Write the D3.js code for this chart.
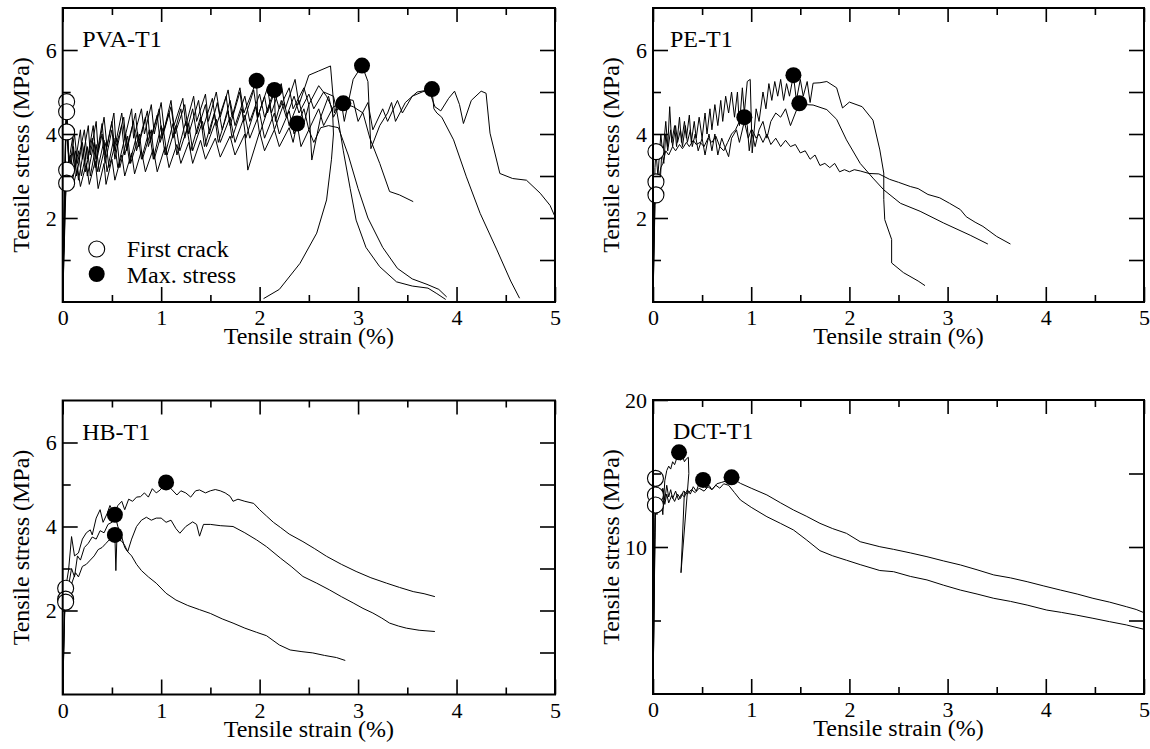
<!DOCTYPE html>
<html><head><meta charset="utf-8">
<script src="https://cdn.jsdelivr.net/npm/d3@7"></script>
<style>
body{margin:0;background:#fff}
svg{display:block}
</style>
</head><body>
<svg id="chart" width="1150" height="749"></svg>
<script>
// ---------- DATA (strain %, stress MPa) : flat [x,y, x,y, ...] ----------
const xTicks = [0, 1, 2, 3, 4, 5];
const xMinorTicks = [0.5, 1.5, 2.5, 3.5, 4.5];
const xTitle = "Tensile strain (%)";
const yTitle = "Tensile stress (MPa)";
const panelNames = ["PVA-T1", "PE-T1", "HB-T1", "DCT-T1"];
const legendLabels = ["First crack", "Max. stress"];

const pvaA = [0,0, 0.03,4.2, 0.04,4.77, 0.06,3.3, 0.1,3.9, 0.12,3.2, 0.18,4.1, 0.2,3.4, 0.26,4.2, 0.28,3.5, 0.34,4.3, 0.36,3.6, 0.42,4.4, 0.45,3.7, 0.52,4.5, 0.54,3.8, 0.6,4.5, 0.63,3.9, 0.7,4.6, 0.72,3.9, 0.8,4.6, 0.83,4.0, 0.9,4.7, 0.93,4.0, 1.0,4.75, 1.03,4.1, 1.1,4.8, 1.13,4.2, 1.22,4.85, 1.25,4.2, 1.33,4.9, 1.36,4.3, 1.45,4.95, 1.48,4.3, 1.56,5.0, 1.6,4.4, 1.68,5.05, 1.72,4.4, 1.8,5.1, 1.84,4.5, 1.97,5.27, 1.98,4.4, 2.05,4.9, 2.08,4.5, 2.15,5.0, 2.2,4.6, 2.3,5.1, 2.34,4.6, 2.45,5.1, 2.5,4.7, 2.6,5.15, 2.68,4.9, 2.74,4.6, 2.75,4.0, 2.73,3.4, 2.68,2.43, 2.58,1.64, 2.41,0.92, 2.2,0.3, 2.04,0.08];
const pvaB = [0,0, 0.03,4.0, 0.04,4.53, 0.07,3.0, 0.11,3.7, 0.14,3.0, 0.2,3.8, 0.23,3.1, 0.3,3.9, 0.33,3.2, 0.4,4.0, 0.43,3.3, 0.5,4.1, 0.53,3.4, 0.6,4.2, 0.63,3.5, 0.72,4.3, 0.75,3.6, 0.84,4.4, 0.87,3.7, 0.96,4.45, 0.99,3.8, 1.08,4.5, 1.12,3.9, 1.2,4.6, 1.24,3.9, 1.32,4.6, 1.36,4.0, 1.45,4.7, 1.49,4.0, 1.57,4.75, 1.62,4.1, 1.7,4.8, 1.75,4.2, 1.85,4.9, 1.9,4.3, 2.0,4.95, 2.05,4.4, 2.15,5.05, 2.16,4.3, 2.22,4.8, 2.27,4.4, 2.35,4.9, 2.4,4.5, 2.5,4.95, 2.55,4.6, 2.65,5.0, 2.75,4.9, 2.78,4.6, 2.85,3.6, 2.92,2.7, 2.98,1.95, 3.08,1.3, 3.22,0.84, 3.39,0.48, 3.55,0.38, 3.71,0.33, 3.8,0.2, 3.89,0.06];
const pvaC = [0,0, 0.03,2.5, 0.04,2.83, 0.08,3.1, 0.1,2.7, 0.15,3.2, 0.18,2.75, 0.24,3.3, 0.27,2.8, 0.33,3.35, 0.36,2.7, 0.42,3.3, 0.44,2.8, 0.5,3.4, 0.53,2.9, 0.6,3.5, 0.63,3.0, 0.7,3.55, 0.73,3.05, 0.8,3.6, 0.84,3.1, 0.92,3.65, 0.96,3.1, 1.04,3.7, 1.08,3.2, 1.16,3.75, 1.2,3.3, 1.28,3.8, 1.32,3.3, 1.4,3.85, 1.45,3.4, 1.55,3.9, 1.6,3.45, 1.7,3.95, 1.75,3.5, 1.85,4.0, 1.88,3.14, 2.0,4.05, 2.05,3.6, 2.15,4.1, 2.2,3.7, 2.3,4.15, 2.34,3.8, 2.38,4.25, 2.42,3.7, 2.5,4.1, 2.55,3.8, 2.62,4.15, 2.7,4.2, 2.8,4.15, 2.9,3.5, 3.0,2.7, 3.1,2.0, 3.25,1.3, 3.4,0.8, 3.55,0.55, 3.7,0.42, 3.82,0.3, 3.9,0.12];
const pvaD = [0,0, 0.03,2.8, 0.04,3.14, 0.08,3.5, 0.1,2.9, 0.16,3.6, 0.19,3.0, 0.25,3.7, 0.28,3.0, 0.34,3.75, 0.37,3.1, 0.44,3.8, 0.47,3.2, 0.55,3.9, 0.58,3.2, 0.66,3.95, 0.69,3.3, 0.78,4.0, 0.81,3.4, 0.9,4.1, 0.93,3.4, 1.02,4.15, 1.06,3.5, 1.15,4.2, 1.19,3.6, 1.28,4.25, 1.32,3.6, 1.42,4.3, 1.46,3.7, 1.56,4.35, 1.6,3.8, 1.7,4.4, 1.75,3.8, 1.85,4.45, 1.9,3.9, 2.0,4.5, 2.05,3.9, 2.15,4.5, 2.2,4.0, 2.3,4.55, 2.35,4.0, 2.45,4.6, 2.5,4.1, 2.6,4.6, 2.65,4.2, 2.75,4.65, 2.85,4.73, 2.95,4.65, 3.05,4.5, 3.12,3.9, 3.22,3.3, 3.32,2.63, 3.42,2.55, 3.56,2.39];
const pvaE = [0,0, 0.03,3.7, 0.04,4.05, 0.07,3.2, 0.12,4.0, 0.15,3.3, 0.22,4.1, 0.25,3.4, 0.31,4.2, 0.34,3.4, 0.4,4.25, 0.43,3.5, 0.5,4.3, 0.53,3.6, 0.62,4.4, 0.65,3.6, 0.74,4.5, 0.77,3.7, 0.86,4.55, 0.89,3.8, 0.98,4.6, 1.01,3.9, 1.1,4.65, 1.14,4.0, 1.24,4.7, 1.28,4.0, 1.38,4.8, 1.42,4.1, 1.52,4.85, 1.56,4.2, 1.66,4.9, 1.7,4.2, 1.8,5.0, 1.84,4.3, 1.94,5.05, 1.98,4.4, 2.08,5.1, 2.12,4.5, 2.22,5.2, 2.26,4.6, 2.36,5.3, 2.4,4.7, 2.5,5.4, 2.6,5.5, 2.72,5.62, 2.76,4.5, 2.82,4.9, 2.86,4.3, 2.95,5.3, 3.04,5.63, 3.1,5.25, 3.13,3.65, 3.22,4.2, 3.3,4.5, 3.34,4.75, 3.38,4.3, 3.48,4.75, 3.6,5.0, 3.72,5.05, 3.78,4.65, 3.84,4.55, 3.92,4.85, 3.98,5.02, 4.03,4.7, 4.07,4.25, 4.15,4.8, 4.25,5.02, 4.3,4.97, 4.34,4.02, 4.44,3.06, 4.57,2.94, 4.71,2.9, 4.85,2.59, 4.95,2.3, 5.0,2.03];
const pvaF = [0,0, 0.03,4.0, 0.04,4.53, 0.07,2.9, 0.13,3.6, 0.16,2.9, 0.22,3.7, 0.25,3.0, 0.32,3.8, 0.35,3.1, 0.42,3.85, 0.45,3.1, 0.52,3.9, 0.56,3.2, 0.64,4.0, 0.68,3.3, 0.76,4.05, 0.8,3.4, 0.88,4.1, 0.92,3.4, 1.0,4.2, 1.04,3.5, 1.12,4.25, 1.16,3.5, 1.25,4.3, 1.3,3.6, 1.4,4.4, 1.44,3.7, 1.54,4.5, 1.58,3.8, 1.68,4.55, 1.72,3.9, 1.82,4.6, 1.86,3.9, 1.96,4.65, 2.0,4.0, 2.1,4.7, 2.15,4.1, 2.25,4.75, 2.3,4.2, 2.4,4.8, 2.45,4.25, 2.5,4.7, 2.53,3.38, 2.62,4.4, 2.7,4.9, 2.75,4.4, 2.85,4.85, 2.95,4.8, 3.0,4.3, 3.1,4.75, 3.15,4.1, 3.25,4.6, 3.3,4.3, 3.4,4.8, 3.45,4.5, 3.55,4.9, 3.65,5.0, 3.75,5.07, 3.77,4.6, 3.8,4.5, 3.85,4.4, 3.97,3.86, 4.1,2.98, 4.24,2.11, 4.41,1.24, 4.55,0.5, 4.64,0.09];
const pvaFirstX = [0.04, 0.04, 0.04, 0.04, 0.04];
const pvaFirstY = [4.77, 4.53, 4.05, 3.14, 2.83];
const pvaMaxX = [1.97, 2.15, 2.38, 2.85, 3.04, 3.75];
const pvaMaxY = [5.27, 5.05, 4.25, 4.73, 5.63, 5.07];

const peA = [0,0, 0.02,3.2, 0.03,3.58, 0.05,3.0, 0.08,4.0, 0.1,3.5, 0.13,4.3, 0.15,3.7, 0.17,4.65, 0.19,3.8, 0.22,4.2, 0.24,3.7, 0.27,4.4, 0.29,3.8, 0.32,4.3, 0.34,3.9, 0.37,4.45, 0.39,3.8, 0.42,4.3, 0.44,3.9, 0.47,4.4, 0.5,3.9, 0.53,4.5, 0.55,4.0, 0.58,4.6, 0.6,4.1, 0.63,4.7, 0.66,4.2, 0.69,4.8, 0.71,4.3, 0.74,4.9, 0.77,4.5, 0.8,5.0, 0.83,4.4, 0.86,5.0, 0.88,4.2, 0.91,5.1, 0.93,4.5, 0.96,5.25, 0.99,5.3, 1.01,3.55, 1.05,4.6, 1.08,4.3, 1.12,5.0, 1.15,4.6, 1.18,5.2, 1.21,4.8, 1.24,5.25, 1.27,4.9, 1.3,5.3, 1.33,4.8, 1.36,5.2, 1.39,4.9, 1.43,5.4, 1.46,4.8, 1.5,5.3, 1.53,4.9, 1.57,5.25, 1.6,4.75, 1.63,5.21, 1.7,5.22, 1.77,5.25, 1.87,5.1, 1.93,4.62, 2.0,4.76, 2.13,4.65, 2.24,4.33, 2.31,3.62, 2.35,3.07, 2.35,2.44, 2.36,1.96, 2.43,1.49, 2.43,0.93, 2.55,0.7, 2.7,0.5, 2.77,0.39];
const peB = [0,0, 0.02,2.5, 0.03,2.86, 0.05,2.7, 0.07,2.67, 0.09,3.6, 0.11,3.3, 0.13,4.0, 0.15,3.6, 0.18,4.1, 0.2,3.7, 0.23,4.2, 0.25,3.8, 0.28,4.1, 0.3,3.7, 0.33,4.2, 0.35,3.8, 0.38,4.1, 0.4,3.7, 0.43,4.0, 0.46,3.6, 0.5,3.9, 0.53,3.5, 0.57,4.0, 0.6,3.6, 0.63,4.0, 0.66,3.5, 0.7,3.9, 0.73,3.7, 0.77,3.46, 0.8,3.9, 0.85,4.1, 0.88,3.8, 0.93,4.3, 0.97,3.9, 1.0,4.1, 1.04,3.7, 1.08,4.1, 1.12,4.3, 1.16,3.9, 1.2,4.3, 1.25,4.5, 1.3,4.4, 1.35,4.6, 1.4,4.2, 1.45,4.5, 1.49,4.73, 1.55,4.7, 1.63,4.69, 1.77,4.58, 1.87,4.35, 1.97,3.86, 2.11,3.3, 2.24,2.95, 2.35,2.67, 2.52,2.35, 2.72,2.16, 2.96,1.88, 3.23,1.59, 3.41,1.38];
const peC = [0,0, 0.02,2.3, 0.03,2.55, 0.05,2.8, 0.08,3.2, 0.1,3.3, 0.13,3.6, 0.16,3.5, 0.2,3.7, 0.23,3.6, 0.27,3.75, 0.3,3.65, 0.34,3.8, 0.37,3.7, 0.41,3.85, 0.44,3.75, 0.48,3.8, 0.52,3.7, 0.56,3.9, 0.6,3.8, 0.64,3.95, 0.68,3.7, 0.72,3.6, 0.76,3.8, 0.8,4.0, 0.84,4.1, 0.88,4.3, 0.93,4.4, 0.96,4.2, 0.98,3.6, 1.01,4.1, 1.05,3.9, 1.08,4.0, 1.12,3.8, 1.16,4.0, 1.2,3.75, 1.25,3.9, 1.3,3.7, 1.35,3.85, 1.4,3.7, 1.45,3.75, 1.5,3.55, 1.55,3.6, 1.6,3.4, 1.65,3.5, 1.7,3.25, 1.75,3.3, 1.8,3.2, 1.85,3.3, 1.9,3.1, 1.95,3.15, 2.0,3.1, 2.05,3.15, 2.11,3.12, 2.2,3.06, 2.3,3.05, 2.41,2.92, 2.5,2.85, 2.62,2.75, 2.7,2.7, 2.8,2.56, 2.92,2.48, 3.02,2.35, 3.13,2.2, 3.19,2.03, 3.28,1.9, 3.36,1.8, 3.5,1.56, 3.64,1.38];
const peFirstX = [0.03, 0.03, 0.03];
const peFirstY = [3.58, 2.86, 2.55];
const peMaxX = [1.43, 1.49, 0.93];
const peMaxY = [5.40, 4.73, 4.40];

const hbA = [0,0, 0.02,2.2, 0.03,2.53, 0.06,2.97, 0.09,3.76, 0.12,3.3, 0.16,3.37, 0.2,3.7, 0.24,3.85, 0.28,3.92, 0.3,3.8, 0.34,4.2, 0.38,4.4, 0.41,4.1, 0.45,4.3, 0.48,4.5, 0.52,4.3, 0.56,4.5, 0.6,4.6, 0.63,4.4, 0.67,4.65, 0.71,4.6, 0.75,4.7, 0.79,4.71, 0.83,4.8, 0.87,4.7, 0.91,4.9, 0.95,4.8, 0.99,4.87, 1.05,5.05, 1.1,4.9, 1.16,4.75, 1.2,4.85, 1.25,4.8, 1.3,4.7, 1.35,4.85, 1.39,4.87, 1.45,4.8, 1.5,4.85, 1.55,4.88, 1.6,4.85, 1.65,4.8, 1.7,4.72, 1.73,4.6, 1.78,4.65, 1.85,4.6, 1.94,4.55, 2.0,4.4, 2.07,4.25, 2.14,4.1, 2.21,3.98, 2.3,3.82, 2.44,3.64, 2.56,3.47, 2.68,3.29, 2.83,3.1, 2.98,2.93, 3.13,2.78, 3.29,2.65, 3.42,2.55, 3.56,2.45, 3.67,2.4, 3.78,2.33];
const hbB = [0,0, 0.02,2.0, 0.03,2.27, 0.06,2.6, 0.09,3.0, 0.12,2.8, 0.15,3.3, 0.18,3.2, 0.22,3.5, 0.26,3.6, 0.3,3.75, 0.34,3.7, 0.38,3.9, 0.42,3.85, 0.46,4.05, 0.5,4.1, 0.53,4.28, 0.56,4.0, 0.6,3.75, 0.63,3.5, 0.66,3.4, 0.7,3.7, 0.75,4.0, 0.8,4.15, 0.85,4.22, 0.9,4.15, 0.95,4.2, 1.0,4.2, 1.05,4.1, 1.1,4.15, 1.15,3.95, 1.19,3.84, 1.25,4.0, 1.32,4.11, 1.36,4.05, 1.39,3.77, 1.43,4.05, 1.5,4.05, 1.6,4.02, 1.73,4.0, 1.85,3.85, 1.97,3.68, 2.07,3.52, 2.21,3.25, 2.32,3.05, 2.44,2.81, 2.58,2.65, 2.71,2.49, 2.83,2.33, 2.95,2.18, 3.05,2.05, 3.15,1.94, 3.24,1.82, 3.32,1.7, 3.41,1.63, 3.49,1.58, 3.62,1.53, 3.78,1.5];
const hbC = [0,0, 0.02,1.9, 0.03,2.2, 0.06,2.4, 0.1,2.7, 0.13,2.9, 0.16,2.8, 0.2,3.05, 0.24,3.1, 0.28,3.2, 0.32,3.3, 0.36,3.45, 0.4,3.5, 0.44,3.6, 0.48,3.7, 0.53,3.8, 0.54,2.95, 0.55,3.7, 0.6,3.65, 0.63,3.55, 0.66,3.4, 0.7,3.3, 0.75,3.1, 0.8,2.95, 0.87,2.8, 0.95,2.65, 1.05,2.41, 1.15,2.25, 1.27,2.12, 1.39,2.02, 1.5,1.93, 1.62,1.8, 1.73,1.7, 1.85,1.58, 1.97,1.48, 2.07,1.4, 2.2,1.18, 2.31,1.06, 2.43,1.02, 2.54,0.99, 2.66,0.93, 2.78,0.88, 2.87,0.81];
const hbFirstX = [0.03, 0.03, 0.03];
const hbFirstY = [2.53, 2.27, 2.2];
const hbMaxX = [1.05, 0.53, 0.53];
const hbMaxY = [5.05, 4.28, 3.80];

const dctA = [0,0, 0.02,12.0, 0.025,14.67, 0.05,13.0, 0.08,13.5, 0.1,12.2, 0.12,14.5, 0.14,15.2, 0.16,15.5, 0.18,15.3, 0.2,15.8, 0.22,15.6, 0.24,16.0, 0.265,16.44, 0.28,15.9, 0.3,16.2, 0.32,15.8, 0.34,16.0, 0.36,16.1, 0.365,15.0, 0.285,8.25, 0.32,13.8];
const dctB = [0,0, 0.02,11.0, 0.025,13.54, 0.04,12.5, 0.06,13.8, 0.08,12.8, 0.1,14.0, 0.12,13.2, 0.14,14.2, 0.16,13.4, 0.18,13.9, 0.2,13.3, 0.23,13.8, 0.26,13.2, 0.29,13.6, 0.32,13.4, 0.35,13.9, 0.38,13.6, 0.41,14.1, 0.44,13.8, 0.47,14.3, 0.51,14.56, 0.54,14.0, 0.57,14.2, 0.6,13.9, 0.64,14.2, 0.68,14.0, 0.72,14.3, 0.77,14.2, 0.83,13.7, 0.89,13.2, 1.0,12.7, 1.16,12.06, 1.3,11.6, 1.43,11.16, 1.56,10.5, 1.7,9.75, 1.83,9.4, 1.97,9.1, 2.11,8.8, 2.31,8.4, 2.45,8.32, 2.62,8.0, 2.79,7.76, 2.96,7.4, 3.13,7.07, 3.3,6.8, 3.47,6.51, 3.64,6.3, 3.81,6.05, 4.01,5.71, 4.16,5.55, 4.31,5.37, 4.48,5.15, 4.65,4.92, 4.82,4.7, 5.0,4.4];
const dctC = [0,0, 0.02,10.5, 0.025,12.86, 0.04,12.2, 0.06,13.5, 0.08,12.6, 0.1,13.9, 0.12,12.9, 0.14,13.6, 0.16,13.0, 0.19,13.5, 0.22,13.1, 0.25,13.6, 0.28,13.3, 0.31,13.8, 0.35,13.6, 0.39,13.9, 0.43,13.7, 0.47,14.0, 0.52,13.8, 0.56,14.1, 0.6,13.9, 0.65,14.3, 0.7,14.4, 0.75,14.5, 0.8,14.74, 0.85,14.5, 0.89,14.33, 1.0,14.0, 1.16,13.54, 1.3,13.0, 1.43,12.52, 1.56,12.1, 1.7,11.61, 1.83,11.25, 1.97,10.93, 2.11,10.36, 2.31,10.02, 2.45,9.84, 2.62,9.6, 2.79,9.34, 2.96,9.05, 3.13,8.78, 3.3,8.45, 3.47,8.1, 3.64,7.9, 3.81,7.64, 3.98,7.35, 4.15,7.07, 4.32,6.8, 4.48,6.51, 4.65,6.25, 4.82,5.94, 4.92,5.75, 5.0,5.53];
const dctFirstX = [0.025, 0.025, 0.025];
const dctFirstY = [14.67, 13.54, 12.86];
const dctMaxX = [0.265, 0.51, 0.80];
const dctMaxY = [16.44, 14.56, 14.74];

const yMaxes = [7, 7, 7, 20];
const yMajorTicks = [[2, 4, 6], [2, 4, 6], [2, 4, 6], [10, 20]];
const yMinorTicks = [[1, 3, 5], [1, 3, 5], [1, 3, 5], [5, 15]];
const yRightTicks = [[1, 2, 3, 4, 5, 6], [1, 2, 3, 4, 5, 6], [1, 2, 3, 4, 5, 6], [5, 10, 15]];

// ---------- BUILD ----------
const FONT = "Liberation Serif";
const pairs = a => d3.range(0, a.length, 2).map(i => [a[i], a[i + 1]]);
const zip = (xs, ys) => xs.map((x, i) => [x, ys[i]]);

const panels = [
  {name: panelNames[0], curves: [pvaA, pvaB, pvaC, pvaD, pvaE, pvaF], first: zip(pvaFirstX, pvaFirstY), max: zip(pvaMaxX, pvaMaxY), box: [62.7, 8, 555, 302], legend: true},
  {name: panelNames[1], curves: [peA, peB, peC], first: zip(peFirstX, peFirstY), max: zip(peMaxX, peMaxY), box: [653, 8, 1144, 302]},
  {name: panelNames[2], curves: [hbA, hbB, hbC], first: zip(hbFirstX, hbFirstY), max: zip(hbMaxX, hbMaxY), box: [62.7, 400.5, 555, 694.5]},
  {name: panelNames[3], curves: [dctA, dctB, dctC], first: zip(dctFirstX, dctFirstY), max: zip(dctMaxX, dctMaxY), box: [653, 400, 1144, 694]}
];

const svg = d3.select("#chart");
const defs = svg.append("defs");
const TICK_FS = 22, LABEL_FS = 24;

panels.forEach((p, pi) => {
  const [L, T, R, B] = p.box;
  const x = d3.scaleLinear().domain([0, 5]).range([L, R]);
  const y = d3.scaleLinear().domain([0, yMaxes[pi]]).range([B, T]);
  const g = svg.append("g");

  defs.append("clipPath").attr("id", "clip" + pi)
    .append("rect").attr("x", L).attr("y", T).attr("width", R - L).attr("height", B - T);

  const line = d3.line().x(d => x(d[0])).y(d => y(d[1]));
  const cg = g.append("g").attr("clip-path", `url(#clip${pi})`);
  p.curves.forEach(c => {
    cg.append("path").attr("d", line(pairs(c)))
      .attr("fill", "none").attr("stroke", "#000").attr("stroke-width", 1).attr("stroke-linejoin", "round");
  });

  // markers
  g.append("g").selectAll("circle").data(p.first).join("circle")
    .attr("cx", d => x(d[0])).attr("cy", d => y(d[1])).attr("r", 8)
    .attr("fill", "#fff").attr("stroke", "#000").attr("stroke-width", 1.1);
  g.append("g").selectAll("circle").data(p.max).join("circle")
    .attr("cx", d => x(d[0])).attr("cy", d => y(d[1])).attr("r", 8)
    .attr("fill", "#000");

  const style = sel => {
    sel.attr("font-family", FONT).attr("font-size", TICK_FS);
    sel.select(".domain").remove();
    sel.selectAll(".tick line").attr("stroke", "#000").attr("stroke-width", 1.6);
    sel.selectAll(".tick text").attr("font-family", FONT)
      .attr("font-size", TICK_FS).attr("fill", "#000");
  };

  // bottom axis
  g.append("g").attr("transform", `translate(0,${B})`)
    .call(d3.axisBottom(x).tickValues(xTicks).tickSize(-15).tickPadding(7.5).tickFormat(d3.format("d")))
    .call(style);
  g.append("g").attr("transform", `translate(0,${B})`)
    .call(d3.axisBottom(x).tickValues(xMinorTicks).tickSize(-7).tickFormat(""))
    .call(style);
  // top axis
  g.append("g").attr("transform", `translate(0,${T})`)
    .call(d3.axisTop(x).tickValues(xTicks).tickSize(-14).tickFormat(""))
    .call(style);
  g.append("g").attr("transform", `translate(0,${T})`)
    .call(d3.axisTop(x).tickValues(xMinorTicks).tickSize(-7).tickFormat(""))
    .call(style);
  // left axis
  g.append("g").attr("transform", `translate(${L},0)`)
    .call(d3.axisLeft(y).tickValues(yMajorTicks[pi]).tickSize(-15).tickPadding(6).tickFormat(d3.format("d")))
    .call(style);
  g.append("g").attr("transform", `translate(${L},0)`)
    .call(d3.axisLeft(y).tickValues(yMinorTicks[pi]).tickSize(-8).tickFormat(""))
    .call(style);
  // right axis
  g.append("g").attr("transform", `translate(${R},0)`)
    .call(d3.axisRight(y).tickValues(yRightTicks[pi]).tickSize(-15).tickFormat(""))
    .call(style);

  // frame
  g.append("rect").attr("x", L).attr("y", T).attr("width", R - L).attr("height", B - T)
    .attr("fill", "none").attr("stroke", "#000").attr("stroke-width", 2);

  // titles
  const txt = sel => sel.attr("font-family", FONT).attr("font-size", LABEL_FS).attr("fill", "#000");
  g.append("text").attr("x", (L + R) / 2).attr("y", B + 42).attr("text-anchor", "middle")
    .call(txt).text(xTitle);
  g.append("text").attr("transform", `translate(${L - 34},${(T + B) / 2}) rotate(-90)`)
    .attr("text-anchor", "middle").call(txt).text(yTitle);
  g.append("text").attr("x", L + (pi % 2 === 0 ? 19.5 : 17 + (pi === 3 ? 3 : 0))).attr("y", T + 39)
    .call(txt).text(p.name);

  if (p.legend) {
    const lg = g.append("g");
    lg.append("circle").attr("cx", L + 34).attr("cy", 249).attr("r", 8)
      .attr("fill", "#fff").attr("stroke", "#000").attr("stroke-width", 1.1);
    lg.append("circle").attr("cx", L + 34).attr("cy", 274).attr("r", 8).attr("fill", "#000");
    lg.append("text").attr("x", L + 64).attr("y", 257).call(txt).text(legendLabels[0]);
    lg.append("text").attr("x", L + 64).attr("y", 283).call(txt).text(legendLabels[1]);
  }
});
</script>
</body></html>
